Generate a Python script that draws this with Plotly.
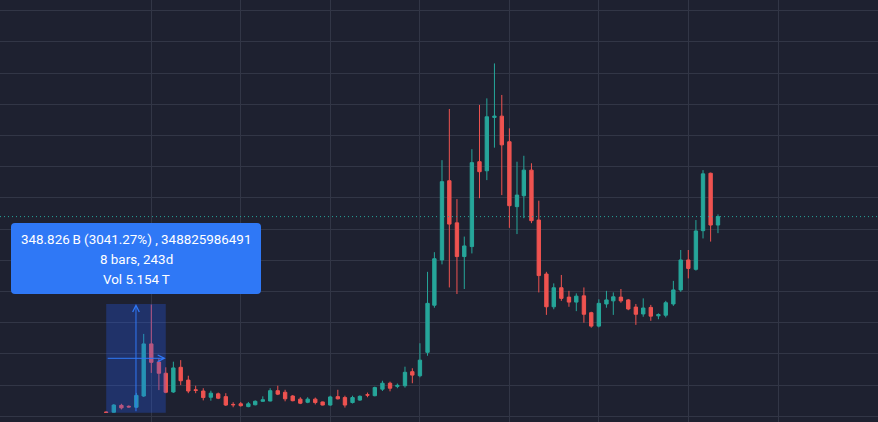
import pandas as pd
import plotly.graph_objects as go

# Monthly candles (values in billions), Jul 2017 .. May 2024
start_month = "2017-07-01"
open_ = [13.5, 13, 35, 32, 29, 65, 232, 174, 138, 78, 157, 116,
         85, 81, 61, 72, 63, 38, 40, 31, 37, 48, 49, 82,
         77, 65, 55, 45, 55, 46, 36, 63, 60, 44, 52, 69,
         66, 87, 106, 96, 98, 143, 130, 205, 356, 501, 755, 620,
         512, 544, 816, 787, 958, 962, 880, 672, 707, 789, 629, 456,
         351, 412, 382, 366, 386, 332, 289, 360, 370, 382, 373, 350,
         328, 349, 322, 324, 360, 405, 501, 471, 595, 779, 613]
high_ = [15.5, 39, 40, 35, 75, 264, 358, 187, 157, 175, 180, 130,
         98, 90, 82, 76, 74, 45, 46, 46, 51, 64, 90, 98,
         85, 68, 61, 61, 60, 47, 66, 85, 66, 66, 67, 76,
         95, 114, 111, 105, 159, 154, 234, 463, 526, 821, 985, 696,
         576, 856, 998, 1019, 1131, 1030, 923, 816, 835, 811, 691, 463,
         426, 453, 402, 394, 413, 335, 375, 402, 397, 408, 376, 360,
         378, 357, 330, 370, 434, 533, 533, 629, 789, 781, 647]
low_ = [11.5, 12, 22, 28, 27, 62, 139, 84, 74, 75, 100, 74,
        74, 51, 50, 55, 33, 29, 31, 29, 35, 47, 48, 68,
        48, 48, 39, 42, 38, 35, 34, 54, 28, 41, 50, 61,
        64, 81, 80, 90, 92, 106, 125, 194, 348, 487, 413, 392,
        408, 522, 699, 757, 861, 709, 604, 584, 635, 619, 397, 325,
        343, 370, 351, 337, 300, 284, 285, 348, 325, 364, 340, 293,
        319, 306, 311, 317, 354, 399, 442, 467, 570, 560, 587]
close_ = [12.5, 36, 27, 30, 67, 232, 173, 138, 77, 155, 114, 81,
          83, 60, 74, 58, 36, 37, 34, 40, 48, 53, 82, 71,
          56, 50, 42, 55, 44, 36, 62, 56, 36, 60, 64, 68,
          92, 106, 90, 99, 141, 132, 180, 362, 505, 752, 616, 512,
          546, 813, 784, 960, 962, 870, 675, 709, 789, 627, 451, 351,
          412, 378, 366, 385, 327, 289, 362, 373, 383, 370, 344, 327,
          347, 321, 326, 364, 405, 501, 474, 594, 777, 613, 640]

# Measure tool (date & price range)
measure_start_idx = 0
measure_end_idx = 8
measure_from = 11.47
measure_to = 360.296
measure_lines = ["348.826\u2009B (3041.27%) , 348825986491", "8 bars, 243d", "Vol 5.154\u2009T"]

year_ticks = [f"{y}-01-01" for y in range(2018, 2026)]

dates = pd.date_range(start_month, periods=len(open_), freq="MS")

UP = "#26a69a"
DOWN = "#ef5350"
BG = "#1e2130"
GRID = "#323646"
BLUE = "#2f78f6"

W, H = 878, 422

fig = go.Figure()
fig.add_trace(go.Candlestick(
    x=dates, open=open_, high=high_, low=low_, close=close_,
    increasing=dict(line=dict(color=UP, width=1), fillcolor=UP),
    decreasing=dict(line=dict(color=DOWN, width=1), fillcolor=DOWN),
    whiskerwidth=0, hoverinfo="skip", showlegend=False,
))

# x range: Jan-2018 gridline at px 151.3, ~0.2451 px/day
ppd = 0.2451
ref = pd.Timestamp("2018-01-01")
x_lo = ref - pd.Timedelta(days=151.3 / ppd)
x_hi = ref + pd.Timedelta(days=(W - 151.3) / ppd)

fig.update_layout(
    width=W, height=H,
    margin=dict(l=0, r=0, t=0, b=0),
    paper_bgcolor=BG, plot_bgcolor=BG,
    showlegend=False,
    xaxis=dict(type="date", range=[x_lo, x_hi], rangeslider=dict(visible=False),
               tickmode="array", tickvals=year_ticks, showticklabels=False,
               showgrid=True, gridcolor=GRID, gridwidth=1, zeroline=False,
               showline=False, ticks=""),
    yaxis=dict(range=[-18.3, 1334.3], tick0=0, dtick=100, showticklabels=False,
               showgrid=True, gridcolor=GRID, gridwidth=1, zeroline=False,
               showline=False, ticks=""),
    font=dict(family="Roboto, Inter, sans-serif"),
)

# last price dotted line
fig.add_shape(type="line", xref="paper", x0=0, x1=1, yref="y",
              y0=close_[-1], y1=close_[-1],
              line=dict(color=UP, width=1, dash="1px,3px"), layer="above")

# measure rectangle
d0 = dates[measure_start_idx]
d1 = dates[measure_end_idx]
dmid = d0 + (d1 - d0) / 2
pmid = (measure_from + measure_to) / 2
fig.add_shape(type="rect", xref="x", yref="y", x0=d0, x1=d1,
              y0=measure_from, y1=measure_to,
              fillcolor="rgba(41,98,255,0.28)", line=dict(width=0), layer="above")

fig.add_annotation(x=dmid, y=measure_to, ax=dmid, ay=measure_from,
                   xref="x", yref="y", axref="x", ayref="y", text="",
                   showarrow=True, arrowhead=5, arrowsize=1.3, arrowwidth=1,
                   arrowcolor=BLUE, standoff=0, startstandoff=0)
fig.add_annotation(x=d1, y=pmid, ax=d0, ay=pmid,
                   xref="x", yref="y", axref="x", ayref="y", text="",
                   showarrow=True, arrowhead=5, arrowsize=1.3, arrowwidth=1,
                   arrowcolor=BLUE, standoff=0, startstandoff=0)

# label box (rounded, paper coords)
def px(x):
    return x / W

def py(y):
    return 1 - y / H

bx0, bx1, by0, by1, r = 11, 261, 223, 294, 4
path = (f"M {px(bx0 + r)},{py(by0)} L {px(bx1 - r)},{py(by0)} "
        f"Q {px(bx1)},{py(by0)} {px(bx1)},{py(by0 + r)} "
        f"L {px(bx1)},{py(by1 - r)} Q {px(bx1)},{py(by1)} {px(bx1 - r)},{py(by1)} "
        f"L {px(bx0 + r)},{py(by1)} Q {px(bx0)},{py(by1)} {px(bx0)},{py(by1 - r)} "
        f"L {px(bx0)},{py(by0 + r)} Q {px(bx0)},{py(by0)} {px(bx0 + r)},{py(by0)} Z")
fig.add_shape(type="path", xref="paper", yref="paper", path=path,
              fillcolor=BLUE, line=dict(width=0), layer="above")

for i, t in enumerate(measure_lines):
    fig.add_annotation(x=px(136), y=py(239 + 20 * i), xref="paper", yref="paper",
                       text=t, showarrow=False, xanchor="center", yanchor="middle",
                       font=dict(color="#ffffff", size=13.4, family="Roboto, Inter, sans-serif"))

fig.write_html(
    "out.html",
    config={"displayModeBar": False, "staticPlot": True},
    post_script="document.body.style.margin='0';document.body.style.padding='0';"
                "document.body.style.overflow='hidden';"
                "document.documentElement.style.background='" + BG + "';",
)
